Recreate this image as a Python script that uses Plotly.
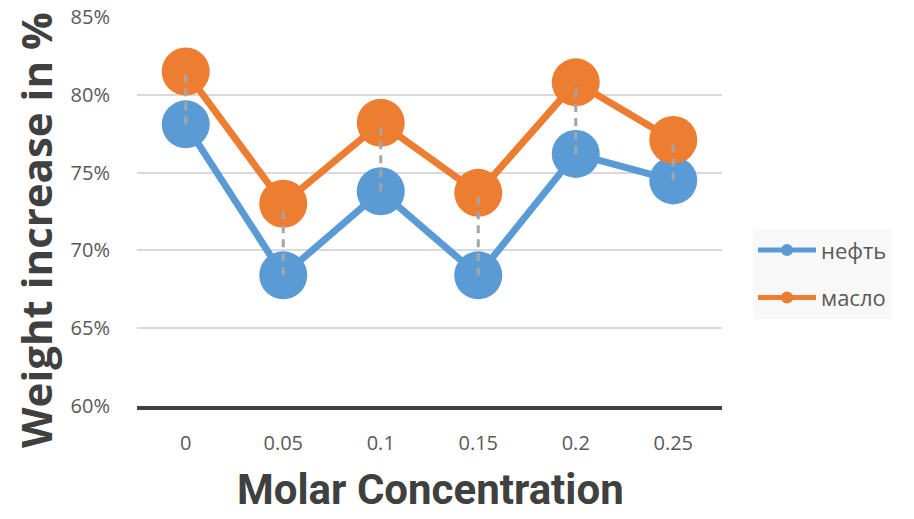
import plotly.graph_objects as go

categories = ["0", "0.05", "0.1", "0.15", "0.2", "0.25"]
neft = [78.1, 68.4, 73.8, 68.4, 76.2, 74.5]
maslo = [81.5, 73.0, 78.2, 73.7, 80.8, 77.1]
series_names = ["нефть", "масло"]
y_ticks = [60, 65, 70, 75, 80, 85]
y_tick_labels = [f"{v}%" for v in y_ticks]

BLUE = "#5B9BD5"
ORANGE = "#ED7D31"

fig = go.Figure()
fig.add_trace(go.Scatter(
    x=categories, y=neft, name=series_names[0], mode="lines+markers",
    line=dict(color=BLUE, width=7), marker=dict(size=48, color=BLUE),
    legendgroup="a"))
fig.add_trace(go.Scatter(
    x=categories, y=maslo, name=series_names[1], mode="lines+markers",
    line=dict(color=ORANGE, width=7), marker=dict(size=48, color=ORANGE),
    legendgroup="b"))

# high-low drop lines between series
dx, dy = [], []
for c, a, b in zip(categories, neft, maslo):
    dx += [c, c, None]
    dy += [a, b, None]
fig.add_trace(go.Scatter(x=dx, y=dy, mode="lines", showlegend=False,
                         line=dict(color="#A5A5A5", width=3, dash="8px,6px"),
                         hoverinfo="skip"))

fig.update_layout(
    width=914, height=519,
    margin=dict(l=137, r=192, t=17, b=113),
    paper_bgcolor="white", plot_bgcolor="white",
    font=dict(family="Open Sans", color="#595959"),
    legend=dict(x=1.053, xanchor="left", y=0.339, yanchor="middle",
                bgcolor="#F8F8F8", font=dict(size=22, color="#595959"),
                itemsizing="constant", itemwidth=58, tracegroupgap=16,
                traceorder="grouped", borderwidth=0),
    xaxis=dict(type="category", range=[-0.5, 5.5], showgrid=False,
               showline=True, linecolor="#404040", linewidth=4,
               ticks="outside", ticklen=16, tickcolor="rgba(0,0,0,0)",
               tickfont=dict(size=20, color="#595959"), zeroline=False,
               automargin=False),
    yaxis=dict(range=[60, 85], tickmode="array", tickvals=y_ticks,
               ticktext=y_tick_labels,
               showgrid=True, gridcolor="#D9D9D9", gridwidth=2,
               zeroline=False, showline=False,
               ticks="outside", ticklen=22, tickcolor="rgba(0,0,0,0)",
               tickfont=dict(size=20, color="#595959"), automargin=False),
    annotations=[
        dict(text="<b>Weight increase in %</b>", xref="paper", yref="paper",
             x=(35 - 137) / 585, y=(406 - 230) / 389, textangle=-90,
             showarrow=False, xanchor="center", yanchor="middle",
             font=dict(family="Open Sans", size=42, color="#404040")),
        dict(text="<b>Molar Concentration</b>", xref="paper", yref="paper",
             x=(430 - 137) / 585, y=(406 - 490) / 389,
             showarrow=False, xanchor="center", yanchor="middle",
             font=dict(family="Roboto", size=42, color="#404040")),
    ],
)

fig.write_html("out.html")
